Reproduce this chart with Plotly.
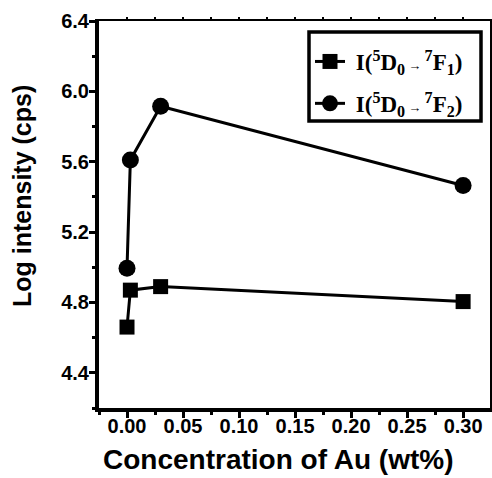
import plotly.graph_objects as go

conc = [0.0, 0.003, 0.03, 0.30]
f1 = [4.66, 4.87, 4.89, 4.805]
f2 = [4.995, 5.61, 5.915, 5.465]
name1 = "&nbsp;I(<sup>5</sup>D<sub>0</sub><span style='font-size:13px'> → </span><sup>7</sup>F<sub>1</sub>)"
name2 = "&nbsp;I(<sup>5</sup>D<sub>0</sub><span style='font-size:13px'> → </span><sup>7</sup>F<sub>2</sub>)"
xtickvals = [0, 0.05, 0.1, 0.15, 0.2, 0.25, 0.3]
xticktext = ["0.00", "0.05", "0.10", "0.15", "0.20", "0.25", "0.30"]
xminor = [-0.025, 0.025, 0.075, 0.125, 0.175, 0.225, 0.275]
ytickvals = [4.4, 4.8, 5.2, 5.6, 6.0, 6.4]
yticktext = ["4.4", "4.8", "5.2", "5.6", "6.0", "6.4"]
yminor = [4.2, 4.6, 5.0, 5.4, 5.8, 6.2]
xr = [-0.025, 0.324]
yr = [4.2, 6.4]

L, R, T, B, W, H = 99, 2, 21, 70, 492, 478
pw, ph = W - L - R, H - T - B
def px(x):
    return (x - L) / pw
def py(y):
    return (H - B - y) / ph

fig = go.Figure()
fig.add_trace(go.Scatter(x=conc, y=f1, mode="lines+markers", name=name1, legendgroup="a",
                         line=dict(color="black", width=3),
                         marker=dict(symbol="square", size=15, color="black")))
fig.add_trace(go.Scatter(x=conc, y=f2, mode="lines+markers", name=name2, legendgroup="b",
                         line=dict(color="black", width=3),
                         marker=dict(symbol="circle", size=17, color="black")))
# invisible trace so the top/right frame axes are drawn
fig.add_trace(go.Scatter(x=[0], y=[5], xaxis="x3", yaxis="y3", mode="markers",
                         marker=dict(opacity=0), showlegend=False, hoverinfo="skip"))

tickfont = dict(family="Liberation Sans, Arial", size=20, color="black", weight="bold")
common = dict(showgrid=False, zeroline=False)

fig.update_layout(
    width=W, height=H,
    margin=dict(l=L, r=R, t=T, b=B),
    paper_bgcolor="white", plot_bgcolor="white",
    xaxis=dict(range=xr, tickvals=xtickvals, ticktext=xticktext,
               ticks="outside", ticklen=6, tickwidth=3, tickcolor="black",
               minor=dict(tickvals=xminor, ticks="outside", ticklen=3, tickwidth=2.5, tickcolor="black"),
               ticklabelposition="outside", ticklabelstandoff=-9,
               showline=True, linewidth=4, linecolor="black", tickfont=tickfont, **common),
    yaxis=dict(range=yr, tickvals=ytickvals, ticktext=yticktext,
               ticks="outside", ticklen=6, tickwidth=3, tickcolor="black",
               minor=dict(tickvals=yminor, ticks="outside", ticklen=3, tickwidth=2.5, tickcolor="black"),
               ticklabelposition="outside", ticklabelstandoff=-4,
               showline=True, linewidth=4, linecolor="black", tickfont=tickfont, **common),
    xaxis3=dict(overlaying="x", side="top", range=xr, tickvals=xtickvals + xminor[1:],
                ticks="outside", ticklen=2, tickwidth=1.5, tickcolor="black",
                showticklabels=False, showline=True, linewidth=2, linecolor="black", **common),
    yaxis3=dict(overlaying="y", side="right", range=yr, showticklabels=False,
                ticks="", showline=True, linewidth=2.5, linecolor="black", **common),
    legend=dict(x=px(310), y=py(40), xanchor="left", yanchor="top",
                borderwidth=0, bgcolor="rgba(0,0,0,0)",
                font=dict(family="Liberation Serif, Times New Roman", size=23, color="black", weight="bold"),
                itemwidth=30, tracegroupgap=9),
    showlegend=True,
    shapes=[dict(type="rect", xref="paper", yref="paper", x0=px(309), x1=px(481), y0=py(32), y1=py(121),
                 line=dict(color="black", width=3.5), fillcolor="white", layer="above")],
    annotations=[
        dict(text="Concentration of Au (wt%)", x=px(278), y=py(459), xref="paper", yref="paper",
             xanchor="center", yanchor="middle", showarrow=False,
             font=dict(family="Liberation Sans, Arial", size=28, color="black", weight="bold")),
        dict(text="Log intensity (cps)", x=px(22), y=py(196), xref="paper", yref="paper",
             xanchor="center", yanchor="middle", textangle=-90, showarrow=False,
             font=dict(family="Liberation Sans, Arial", size=25, color="black", weight="bold")),
    ],
)

fig.write_html("out.html")
